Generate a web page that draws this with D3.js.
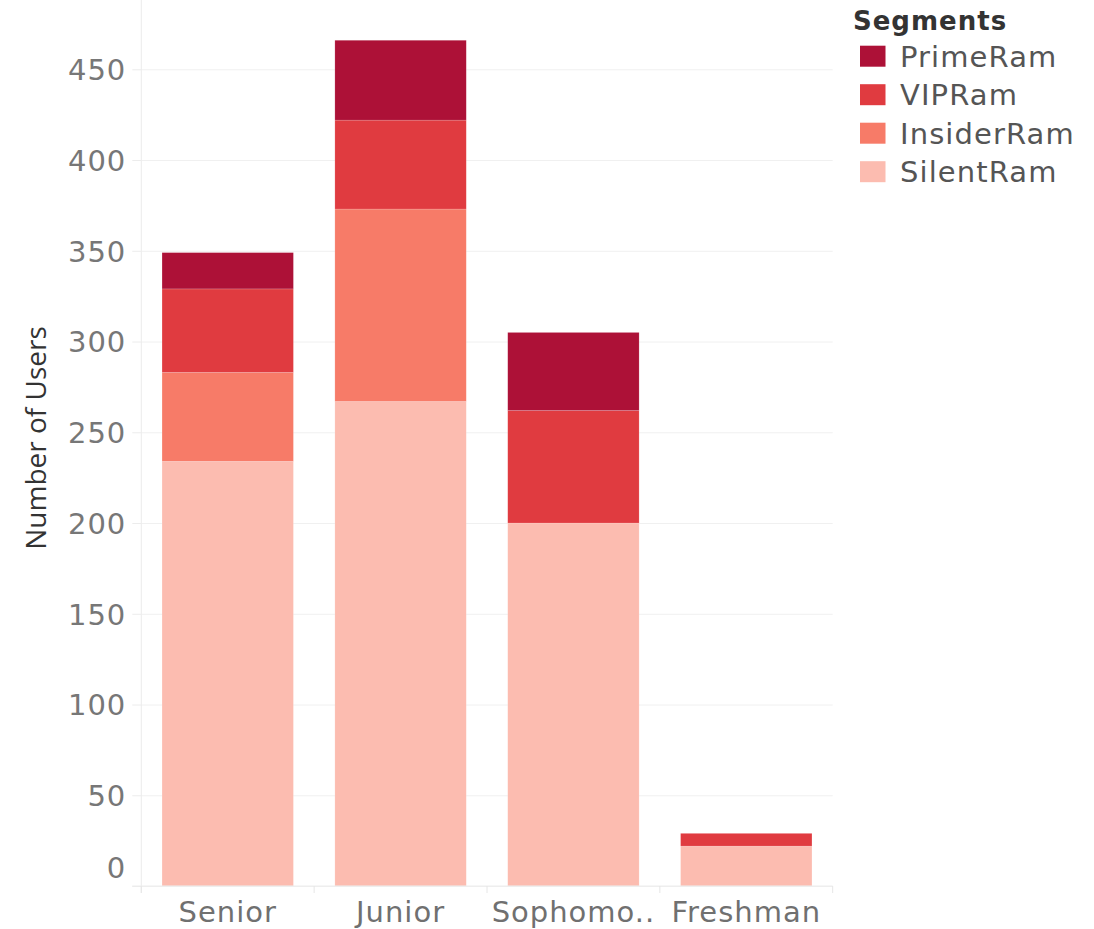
<!DOCTYPE html>
<html>
<head>
<meta charset="utf-8">
<script src="https://cdn.jsdelivr.net/npm/d3@7"></script>
<style>
  html, body { margin: 0; padding: 0; background: #ffffff; }
  svg { display: block; }
</style>
</head>
<body>
<svg id="chart" width="1094" height="929"></svg>
<script>
// Class years shown along the x axis (label text as displayed)
const categories = ["Senior", "Junior", "Sophomore", "Freshman"];
const categoryLabels = ["Senior", "Junior", "Sophomo..", "Freshman"];

// Segments, stacked bottom to top
const segments = ["SilentRam", "InsiderRam", "VIPRam", "PrimeRam"];
// Legend order (top to bottom)
const legendOrder = ["PrimeRam", "VIPRam", "InsiderRam", "SilentRam"];

// Number of users per segment, one entry per class year
const silentRam  = [234, 267, 200, 22];
const insiderRam = [49, 106, 0, 0];
const vipRam     = [46, 49, 62, 7];
const primeRam   = [20, 44, 43, 0];

const yTicks = [0, 50, 100, 150, 200, 250, 300, 350, 400, 450];

const segmentColors = {
  PrimeRam:   "#ad1137",
  VIPRam:     "#e03b40",
  InsiderRam: "#f77b68",
  SilentRam:  "#fcbcb0"
};

// Table the stack layout consumes
const rows = categories.map((c, i) => ({
  category: c,
  SilentRam: silentRam[i],
  InsiderRam: insiderRam[i],
  VIPRam: vipRam[i],
  PrimeRam: primeRam[i]
}));

const svg = d3.select("#chart");

const plotLeft = 141.3, plotRight = 832.7, plotTop = 0, plotBottom = 886;

const x = d3.scaleBand()
  .domain(categories)
  .range([plotLeft, plotRight])
  .paddingInner(0.24)
  .paddingOuter(0.12);

const y = d3.scaleLinear()
  .domain([0, 450])
  .range([plotBottom, 69.3]);

const tickFont = "'DejaVu Sans', sans-serif";

// Horizontal gridlines
const grid = svg.append("g")
  .attr("transform", `translate(${plotLeft},0)`)
  .call(d3.axisLeft(y).tickValues(yTicks).tickSize(-(plotRight - plotLeft)).tickFormat(""));
grid.select(".domain").remove();
grid.selectAll(".tick line").attr("stroke", "#f0f0f0").attr("stroke-width", 1);

// Vertical axis rule
svg.append("line")
  .attr("x1", plotLeft).attr("x2", plotLeft)
  .attr("y1", plotTop).attr("y2", plotBottom + 7)
  .attr("stroke", "#ececec").attr("stroke-width", 1);

// Stacked bars
const stack = d3.stack().keys(segments);
const layers = stack(rows);

svg.append("g")
  .selectAll("g")
  .data(layers)
  .join("g")
    .attr("fill", d => segmentColors[d.key])
  .selectAll("rect")
  .data(d => d.filter(p => p[1] - p[0] > 0))
  .join("rect")
    .attr("x", d => x(d.data.category))
    .attr("width", x.bandwidth())
    .attr("y", d => y(d[1]))
    .attr("height", d => y(d[0]) - y(d[1]))
    .attr("stroke", "rgba(255,255,255,0.25)")
    .attr("stroke-width", 0.6);

// Y axis ticks and labels
const yAxis = svg.append("g")
  .attr("transform", `translate(${plotLeft},0)`)
  .call(d3.axisLeft(y).tickValues(yTicks).tickSize(9).tickPadding(6));
yAxis.select(".domain").remove();
yAxis.selectAll(".tick line").attr("stroke", "#ececec");
yAxis.selectAll(".tick text")
  .attr("fill", "#777777")
  .style("font-family", tickFont)
  .style("font-size", "29px")
  .style("letter-spacing", "1px")
  .attr("dy", d => d === 0 ? "-0.28em" : "0.36em");

// X axis
const xAxis = svg.append("g")
  .attr("transform", `translate(0,${plotBottom})`)
  .call(d3.axisBottom(x).tickSize(0).tickPadding(0).tickFormat((d, i) => categoryLabels[i]));
xAxis.select(".domain")
  .attr("d", `M${plotLeft - 9},0H${plotRight}`)
  .attr("stroke", "#ececec");
xAxis.selectAll(".tick text")
  .attr("y", 36)
  .attr("dy", 0)
  .attr("fill", "#707070")
  .style("font-family", tickFont)
  .style("font-size", "29px")
  .style("letter-spacing", "1px");

// Separators between categories on the x axis
const bounds = categories.map(c => x(c) - x.step() * x.paddingInner() / 2)
  .concat([plotRight]);
bounds[0] = plotLeft;
svg.append("g")
  .selectAll("line")
  .data(bounds)
  .join("line")
    .attr("x1", d => d).attr("x2", d => d)
    .attr("y1", plotBottom).attr("y2", plotBottom + 7)
    .attr("stroke", "#e6e6e6");

// Y axis title
svg.append("text")
  .attr("transform", `translate(46,${438}) rotate(-90)`)
  .attr("text-anchor", "middle")
  .attr("fill", "#333333")
  .style("font-family", "'Open Sans', sans-serif")
  .style("font-size", "28px")
  .text("Number of Users");

// Legend
const legend = svg.append("g");
legend.append("text")
  .attr("x", 853).attr("y", 30)
  .attr("fill", "#333333")
  .style("font-family", tickFont)
  .style("font-weight", "bold")
  .style("font-size", "26px")
  .style("letter-spacing", "1px")
  .text("Segments");

const items = legend.selectAll("g.item")
  .data(legendOrder)
  .join("g")
    .attr("class", "item")
    .attr("transform", (d, i) => `translate(0,${i * 38.5})`);
items.append("rect")
  .attr("x", 860).attr("y", 45.7)
  .attr("width", 25.5).attr("height", 21)
  .attr("fill", d => segmentColors[d]);
items.append("text")
  .attr("x", 900).attr("y", 66.7)
  .attr("fill", "#555555")
  .style("font-family", tickFont)
  .style("font-size", "29px")
  .style("letter-spacing", "1.1px")
  .text(d => d);
</script>
</body>
</html>
